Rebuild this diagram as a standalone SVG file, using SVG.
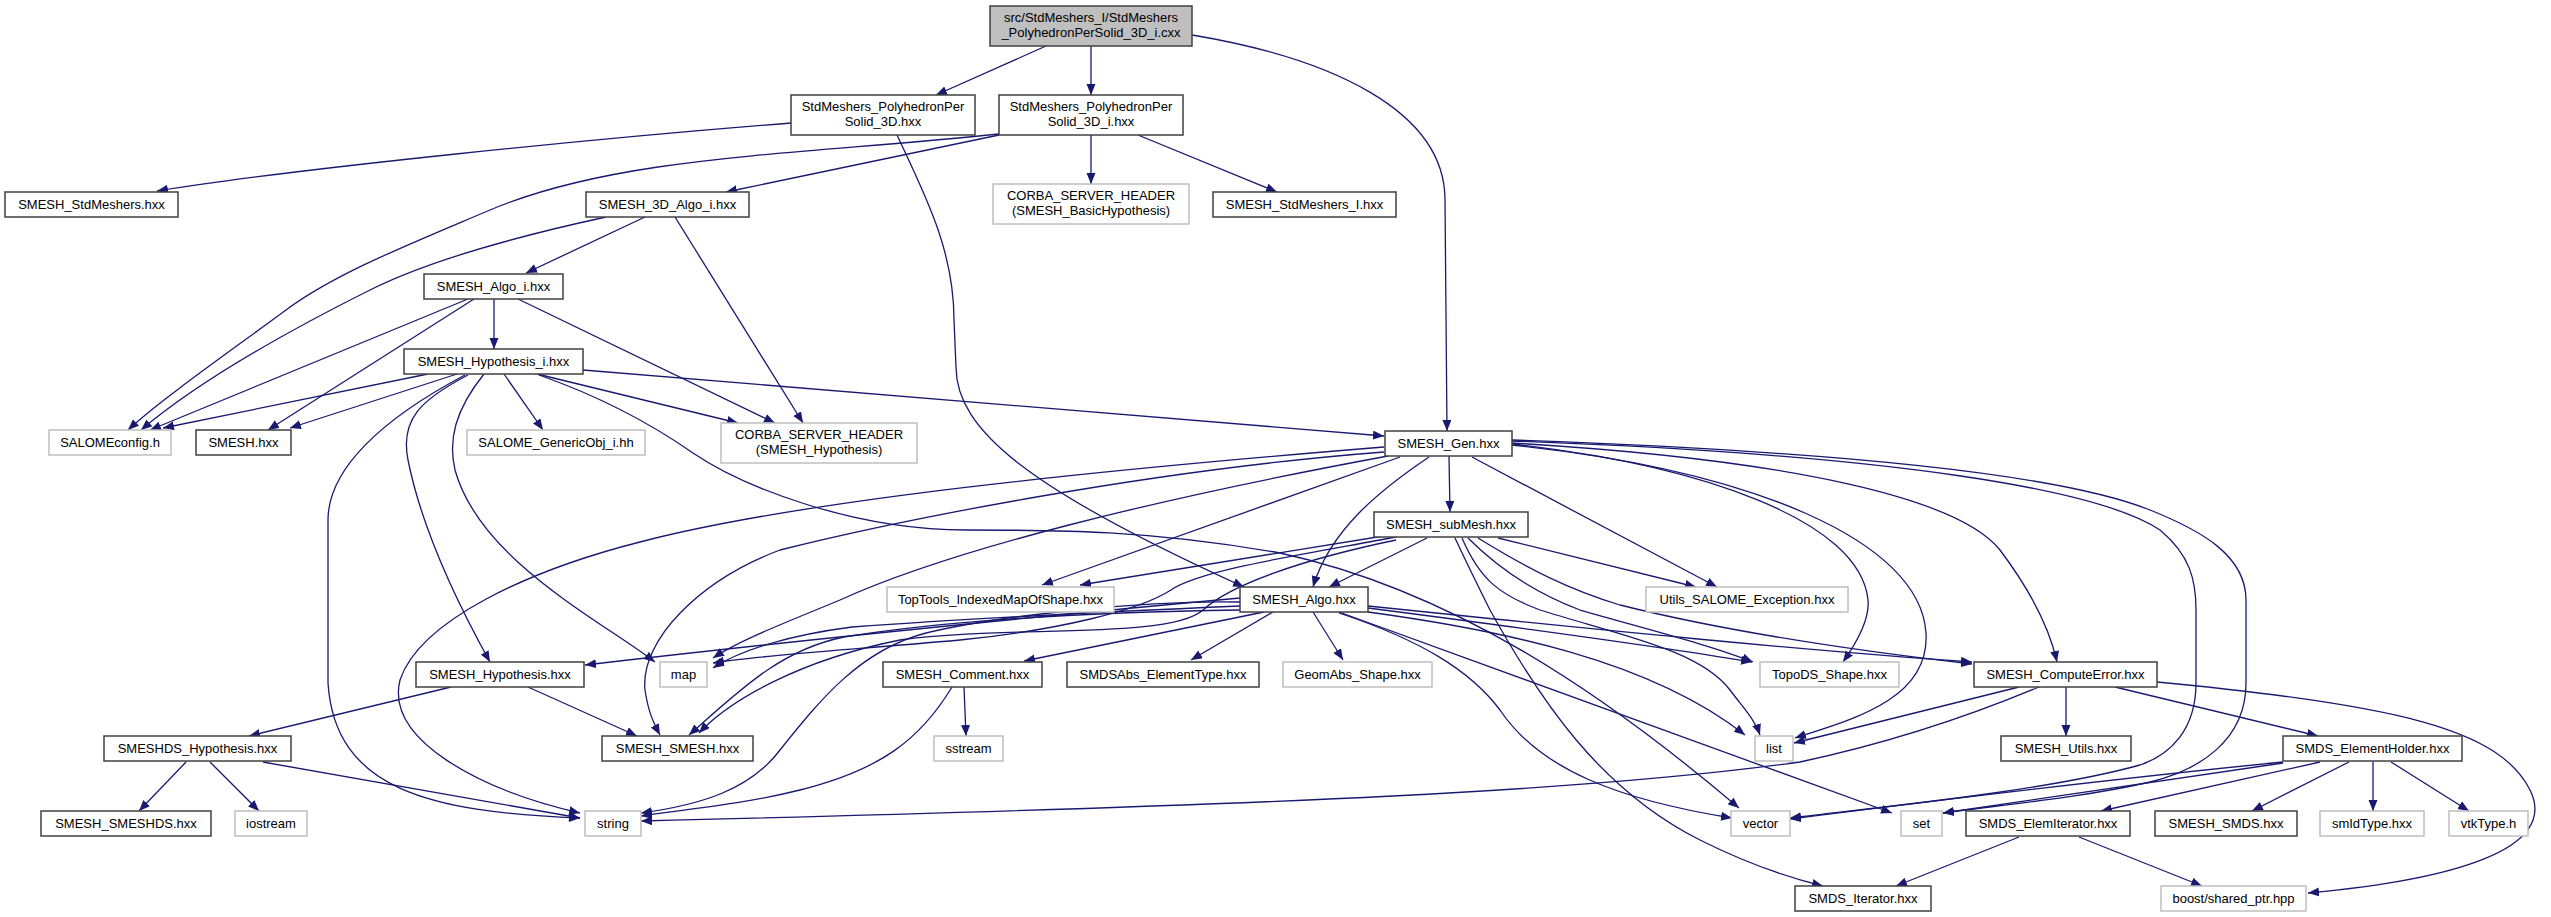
<svg xmlns="http://www.w3.org/2000/svg" width="2551" height="917" viewBox="0 0 2551 917">
<style>
.n rect{fill:#fff;stroke:#404040;stroke-width:1.5}
.g rect{fill:#fff;stroke:#bfbfbf;stroke-width:1.5}
.r rect{fill:#bfbfbf;stroke:#404040;stroke-width:1.5}
text{font-family:"Liberation Sans",Arial,sans-serif;font-size:13px;text-anchor:middle;fill:#000}
#edges path{fill:none;stroke:#191970;stroke-width:1.3;marker-end:url(#a)}
</style>
<defs>
<marker id="a" markerWidth="12" markerHeight="10" refX="11" refY="4.5" orient="auto" markerUnits="userSpaceOnUse"><path d="M0,0 L11,4.5 L0,9 z" fill="#191970"/></marker>
</defs>
<rect width="2551" height="917" fill="#fff"/>
<g id="edges">
<path d="M1046,46 L936,95"/>
<path d="M1091,46 L1091,95"/>
<path d="M1192,35 C1330,58 1445,110 1445,200 L1447,431"/>
<path d="M791,123 C600,138 300,168 157,191"/>
<path d="M897,135 C925,195 954,250 954,320 L956,367 C956,430 1030,490 1244,587"/>
<path d="M999,134 C800,155 620,155 490,210 C410,244 336,273 286,310 C236,347 160,400 128,430"/>
<path d="M999,135 L726,192"/>
<path d="M1091,135 L1091,184"/>
<path d="M1138,135 L1277,192"/>
<path d="M606,217 C500,240 420,265 370,290 C290,330 200,380 141,430"/>
<path d="M645,217 L526,273"/>
<path d="M675,217 L803,423"/>
<path d="M468,299 L150,430"/>
<path d="M474,299 L268,430"/>
<path d="M494,299 L494,349"/>
<path d="M518,299 L775,423"/>
<path d="M428,374 L163,428"/>
<path d="M457,374 L290,428"/>
<path d="M465,375 C380,420 328,470 328,520 L328,683 C335,790 430,812 580,818"/>
<path d="M468,375 C420,400 400,420 408,460 C420,520 450,590 490,662"/>
<path d="M484,374 C455,410 448,440 455,470 C480,560 600,620 655,662"/>
<path d="M504,374 L543,430"/>
<path d="M537,374 L738,423"/>
<path d="M583,370 L1384,436"/>
<path d="M539,375 C610,400 660,430 693,453 C740,485 850,530 966,530 C1060,530 1150,530 1280,553 C1450,590 1600,690 1739,808"/>
<path d="M1384,447 C1100,470 800,500 640,542 C530,570 420,620 400,680 C385,740 480,790 580,813"/>
<path d="M1384,452 C1150,470 900,520 780,550 C700,580 640,640 645,690 C648,710 652,720 660,735"/>
<path d="M1388,456 C1150,500 950,550 840,600 C780,625 740,640 713,658"/>
<path d="M1400,457 L1042,585"/>
<path d="M1429,457 C1380,490 1330,530 1313,587"/>
<path d="M1449,456 L1450,512"/>
<path d="M1472,457 L1717,587"/>
<path d="M1512,444 C1700,465 1860,520 1868,600 C1870,620 1855,645 1843,662"/>
<path d="M1512,445 C1750,470 1920,540 1926,633 C1930,700 1850,720 1795,738"/>
<path d="M1512,443 C1800,460 1960,500 2000,550 C2030,590 2050,630 2057,662"/>
<path d="M1512,441 C1900,455 2100,490 2160,530 C2190,555 2196,580 2196,610 L2196,683 C2196,730 2170,755 2140,765 C2050,790 1900,805 1790,818"/>
<path d="M1512,440 C1800,450 2050,470 2150,510 C2200,530 2246,555 2246,600 L2246,683 C2246,740 2200,770 2150,782 C2080,798 2000,805 1943,813"/>
<path d="M1427,538 L1329,587"/>
<path d="M1498,538 L1696,587"/>
<path d="M1455,538 C1470,570 1480,590 1490,610 C1540,700 1600,790 1700,840 C1750,865 1790,878 1823,886"/>
<path d="M1462,538 C1480,580 1500,595 1540,610 C1620,635 1700,650 1730,690 C1745,710 1755,720 1760,735"/>
<path d="M1468,538 C1500,570 1540,595 1580,610 C1650,630 1710,645 1753,662"/>
<path d="M1478,538 C1530,570 1570,590 1620,605 C1720,630 1850,650 1972,664"/>
<path d="M1396,534 L1080,585"/>
<path d="M1396,537 C1300,555 1200,570 1171,590 C1140,610 1060,630 960,640 C850,650 760,655 713,663"/>
<path d="M1396,540 C1300,560 1230,585 1203,610 C1170,640 1000,625 900,640 C800,660 730,700 699,733"/>
<path d="M1240,606 C1100,612 950,620 852,627 C790,635 740,650 713,668"/>
<path d="M1240,610 C1100,612 950,620 844,637 C780,650 740,690 689,735"/>
<path d="M1240,602 C1150,600 1000,615 926,633 C860,650 820,700 780,750 C750,790 700,805 641,813"/>
<path d="M1240,598 C1000,620 800,640 585,665"/>
<path d="M1264,612 L1024,661"/>
<path d="M1273,612 L1191,660"/>
<path d="M1313,612 L1343,660"/>
<path d="M1339,612 L1892,813"/>
<path d="M1339,613 C1420,640 1470,670 1500,710 C1540,770 1620,800 1732,818"/>
<path d="M1368,612 C1500,630 1650,660 1745,735"/>
<path d="M1368,608 C1500,625 1650,645 1752,662"/>
<path d="M1368,606 C1600,630 1800,650 1972,662"/>
<path d="M2066,687 L2066,736"/>
<path d="M2115,687 L2318,736"/>
<path d="M2157,682 C2400,705 2500,730 2530,790 C2560,850 2450,880 2308,893"/>
<path d="M2019,687 L1794,743"/>
<path d="M2039,687 C1960,720 1880,745 1800,762 C1600,790 1300,805 641,821"/>
<path d="M2283,762 C2100,780 1900,805 1790,819"/>
<path d="M2283,763 L1943,813"/>
<path d="M2320,762 L2101,811"/>
<path d="M2349,762 L2252,811"/>
<path d="M2373,762 L2373,811"/>
<path d="M2391,762 L2469,811"/>
<path d="M2019,837 L1896,886"/>
<path d="M2079,837 L2202,886"/>
<path d="M964,687 L966,736"/>
<path d="M952,687 C920,740 880,770 800,790 C740,805 680,810 641,816"/>
<path d="M451,687 L249,736"/>
<path d="M528,687 L637,736"/>
<path d="M186,762 L139,811"/>
<path d="M210,762 L259,811"/>
<path d="M263,762 L580,818"/>
</g>
<g id="n0" class="r"><rect x="990" y="6" width="202" height="40"/><text x="1091" y="22">src/StdMeshers_I/StdMeshers</text><text x="1091" y="37">_PolyhedronPerSolid_3D_i.cxx</text></g>
<g id="n1" class="n"><rect x="791" y="95" width="184" height="40"/><text x="883" y="111">StdMeshers_PolyhedronPer</text><text x="883" y="126">Solid_3D.hxx</text></g>
<g id="n2" class="n"><rect x="999" y="95" width="184" height="40"/><text x="1091" y="111">StdMeshers_PolyhedronPer</text><text x="1091" y="126">Solid_3D_i.hxx</text></g>
<g id="n3" class="n"><rect x="5" y="192" width="173" height="25"/><text x="91.5" y="209">SMESH_StdMeshers.hxx</text></g>
<g id="n4" class="n"><rect x="586" y="192" width="163" height="25"/><text x="667.5" y="209">SMESH_3D_Algo_i.hxx</text></g>
<g id="n5" class="g"><rect x="993" y="184" width="196" height="40"/><text x="1091" y="200">CORBA_SERVER_HEADER</text><text x="1091" y="215">(SMESH_BasicHypothesis)</text></g>
<g id="n6" class="n"><rect x="1213" y="192" width="183" height="25"/><text x="1304.5" y="209">SMESH_StdMeshers_I.hxx</text></g>
<g id="n7" class="n"><rect x="424" y="274" width="139" height="25"/><text x="493.5" y="291">SMESH_Algo_i.hxx</text></g>
<g id="n8" class="n"><rect x="404" y="349" width="179" height="25"/><text x="493.5" y="366">SMESH_Hypothesis_i.hxx</text></g>
<g id="n9" class="g"><rect x="49" y="430" width="122" height="25"/><text x="110" y="447">SALOMEconfig.h</text></g>
<g id="n10" class="n"><rect x="196" y="430" width="95" height="25"/><text x="243.5" y="447">SMESH.hxx</text></g>
<g id="n11" class="g"><rect x="467" y="430" width="178" height="25"/><text x="556" y="447">SALOME_GenericObj_i.hh</text></g>
<g id="n12" class="g"><rect x="721" y="423" width="196" height="40"/><text x="819" y="439">CORBA_SERVER_HEADER</text><text x="819" y="454">(SMESH_Hypothesis)</text></g>
<g id="n13" class="n"><rect x="1385" y="431" width="127" height="25"/><text x="1448.5" y="448">SMESH_Gen.hxx</text></g>
<g id="n14" class="n"><rect x="1374" y="512" width="154" height="25"/><text x="1451" y="529">SMESH_subMesh.hxx</text></g>
<g id="n15" class="g"><rect x="887" y="587" width="227" height="25"/><text x="1000.5" y="604">TopTools_IndexedMapOfShape.hxx</text></g>
<g id="n16" class="n"><rect x="1240" y="587" width="128" height="25"/><text x="1304" y="604">SMESH_Algo.hxx</text></g>
<g id="n17" class="g"><rect x="1646" y="587" width="202" height="25"/><text x="1747" y="604">Utils_SALOME_Exception.hxx</text></g>
<g id="n18" class="n"><rect x="416" y="662" width="168" height="25"/><text x="500" y="679">SMESH_Hypothesis.hxx</text></g>
<g id="n19" class="g"><rect x="660" y="662" width="47" height="25"/><text x="683.5" y="679">map</text></g>
<g id="n20" class="n"><rect x="883" y="662" width="159" height="25"/><text x="962.5" y="679">SMESH_Comment.hxx</text></g>
<g id="n21" class="n"><rect x="1067" y="662" width="192" height="25"/><text x="1163" y="679">SMDSAbs_ElementType.hxx</text></g>
<g id="n22" class="g"><rect x="1283" y="662" width="149" height="25"/><text x="1357.5" y="679">GeomAbs_Shape.hxx</text></g>
<g id="n23" class="g"><rect x="1760" y="662" width="139" height="25"/><text x="1829.5" y="679">TopoDS_Shape.hxx</text></g>
<g id="n24" class="n"><rect x="1974" y="662" width="183" height="25"/><text x="2065.5" y="679">SMESH_ComputeError.hxx</text></g>
<g id="n25" class="n"><rect x="104" y="736" width="187" height="25"/><text x="197.5" y="753">SMESHDS_Hypothesis.hxx</text></g>
<g id="n26" class="n"><rect x="602" y="736" width="151" height="25"/><text x="677.5" y="753">SMESH_SMESH.hxx</text></g>
<g id="n27" class="g"><rect x="934" y="736" width="69" height="25"/><text x="968.5" y="753">sstream</text></g>
<g id="n28" class="g"><rect x="1755" y="736" width="38" height="25"/><text x="1774" y="753">list</text></g>
<g id="n29" class="n"><rect x="2001" y="736" width="130" height="25"/><text x="2066" y="753">SMESH_Utils.hxx</text></g>
<g id="n30" class="n"><rect x="2283" y="736" width="179" height="25"/><text x="2372.5" y="753">SMDS_ElementHolder.hxx</text></g>
<g id="n31" class="n"><rect x="41" y="811" width="170" height="25"/><text x="126" y="828">SMESH_SMESHDS.hxx</text></g>
<g id="n32" class="g"><rect x="235" y="811" width="72" height="25"/><text x="271" y="828">iostream</text></g>
<g id="n33" class="g"><rect x="585" y="811" width="56" height="25"/><text x="613" y="828">string</text></g>
<g id="n34" class="g"><rect x="1731" y="811" width="59" height="25"/><text x="1760.5" y="828">vector</text></g>
<g id="n35" class="g"><rect x="1901" y="811" width="41" height="25"/><text x="1921.5" y="828">set</text></g>
<g id="n36" class="n"><rect x="1966" y="811" width="164" height="25"/><text x="2048" y="828">SMDS_ElemIterator.hxx</text></g>
<g id="n37" class="n"><rect x="2155" y="811" width="142" height="25"/><text x="2226" y="828">SMESH_SMDS.hxx</text></g>
<g id="n38" class="g"><rect x="2320" y="811" width="104" height="25"/><text x="2372" y="828">smIdType.hxx</text></g>
<g id="n39" class="g"><rect x="2449" y="811" width="79" height="25"/><text x="2488.5" y="828">vtkType.h</text></g>
<g id="n40" class="n"><rect x="1795" y="886" width="136" height="25"/><text x="1863" y="903">SMDS_Iterator.hxx</text></g>
<g id="n41" class="g"><rect x="2161" y="886" width="145" height="25"/><text x="2233.5" y="903">boost/shared_ptr.hpp</text></g>
</svg>
